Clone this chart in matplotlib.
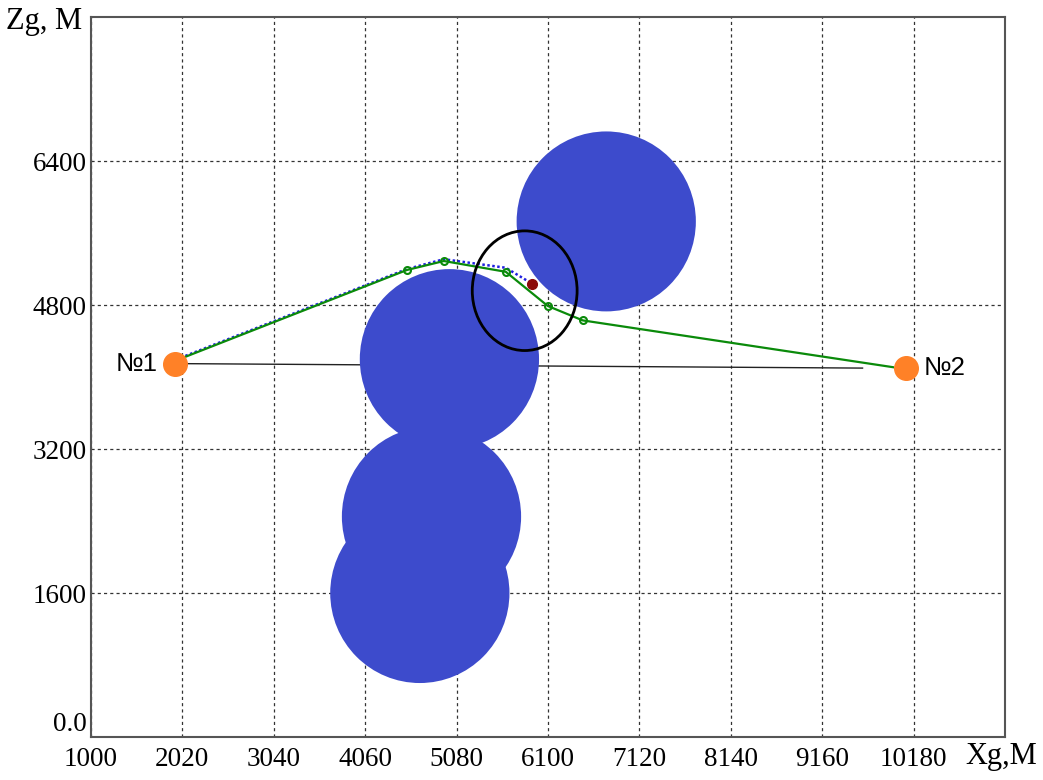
import matplotlib

matplotlib.use("Agg")
import matplotlib.pyplot as plt
from matplotlib.patches import Circle, Ellipse

# obstacle circles (zones), metres
zone_x = [6750, 5000, 4800, 4670]
zone_y = [5730, 4200, 2450, 1600]
zone_r = [1000, 1000, 1000, 1000]

# start / finish points
pt_x = [1940, 10090]
pt_y = [4150, 4100]
pt_names = ["№1", "№2"]

# planned route (green)
route_x = [1950, 4525, 4938, 5629, 6098, 6488, 9950]
route_y = [4185, 5190, 5290, 5170, 4790, 4630, 4110]

# actual track (blue dotted)
track_x = [1950, 4525, 4938, 5629, 5919]
track_y = [4195, 5200, 5310, 5215, 5040]

# straight reference line
ref_x = [1950, 9610]
ref_y = [4150, 4100]

# highlighted area
ell_x, ell_y, ell_w, ell_h = 5840, 4960, 1170, 1330

xticks = [1000, 2020, 3040, 4060, 5080, 6100, 7120, 8140, 9160, 10180]
yticks = [0, 1600, 3200, 4800, 6400]
ylabels = ["0.0", "1600", "3200", "4800", "6400"]

serif = ["Liberation Serif", "DejaVu Serif"]
sans = ["Liberation Sans", "DejaVu Sans"]

fig = plt.figure(figsize=(10.43, 7.8), dpi=100)
ax = fig.add_axes([0.0872, 0.0551, 0.8764, 0.9229])
ax.set_xlim(1000, 11200)
ax.set_ylim(0, 8000)

ax.set_xticks(xticks)
ax.set_xticklabels([str(v) for v in xticks], family=serif, fontsize=19.5)
ax.set_yticks(yticks)
ax.set_yticklabels(ylabels, family=serif, fontsize=19.5)
ax.tick_params(length=0)
ax.tick_params(axis="x", pad=7)
ax.tick_params(axis="y", pad=3)
ax.get_yticklabels()[0].set_va("bottom")
ax.grid(True, color="#333333", linestyle=(0, (2.5, 2.5)), linewidth=0.9)
for s in ax.spines.values():
    s.set_color("#555555")
    s.set_linewidth(1.5)

ax.plot(ref_x, ref_y, color="#222222", linewidth=1, zorder=2)

for cx, cy, r in zip(zone_x, zone_y, zone_r):
    ax.add_patch(Circle((cx, cy), r, facecolor="#3d4bcc", edgecolor="none", zorder=3))

ax.plot(track_x, track_y, color="#1f1fe0", linestyle=(0, (1, 1)), linewidth=1.8, zorder=4)
ax.plot(route_x, route_y, color="#0a8a0a", linewidth=1.6, zorder=5)
ax.plot(route_x[1:-1], route_y[1:-1], linestyle="none", marker="o", markersize=5,
        markerfacecolor="none", markeredgecolor="#0a8a0a", markeredgewidth=1.5, zorder=6)
ax.plot([track_x[-1]], [track_y[-1]], marker="o", markersize=7, color="#8b0a0a",
        linestyle="none", zorder=6)

ax.add_patch(Ellipse((ell_x, ell_y), ell_w, ell_h, facecolor="none",
                     edgecolor="black", linewidth=2, zorder=7))

ax.plot(pt_x, pt_y, linestyle="none", marker="o", markersize=17,
        color="#ff8127", zorder=8)
ax.annotate(pt_names[0], (pt_x[0], pt_y[0]), xytext=(-13, 0), textcoords="offset points",
            ha="right", va="center", family=sans, fontsize=18.5)
ax.annotate(pt_names[1], (pt_x[1], pt_y[1]), xytext=(13, 0), textcoords="offset points",
            ha="left", va="center", family=sans, fontsize=18.5)

fig.text(0.006, 0.972, "Zg, M", family=serif, fontsize=22, ha="left", va="center")
fig.text(0.926, 0.030, "Xg,M", family=serif, fontsize=22, ha="left", va="center")

fig.savefig("out.png", dpi=100)
